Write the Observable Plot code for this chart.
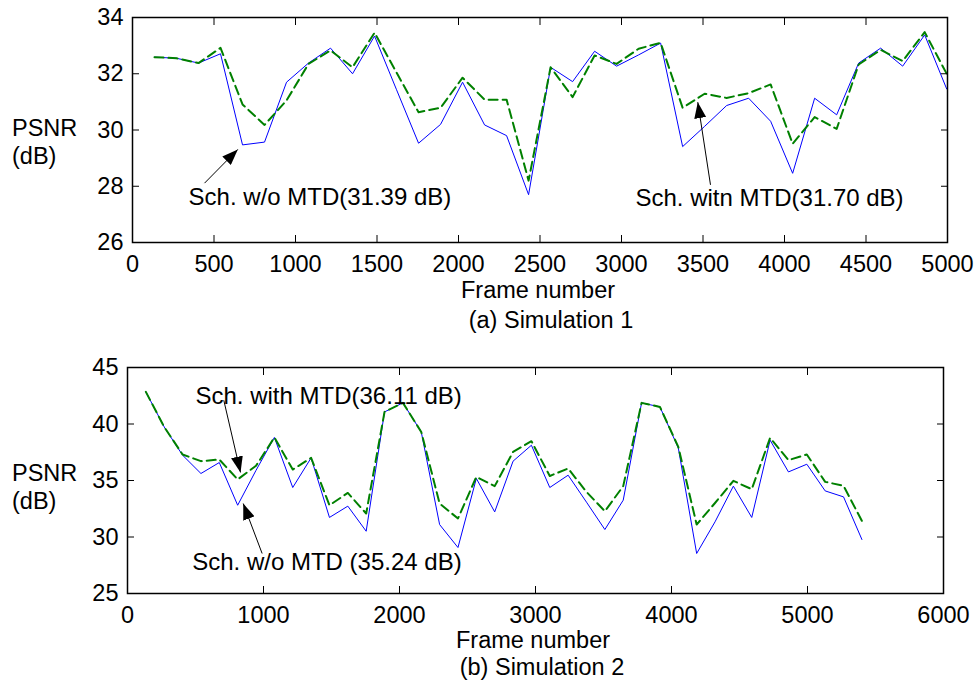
<!DOCTYPE html>
<html><head><meta charset="utf-8">
<script src="https://cdn.jsdelivr.net/npm/d3@7"></script>
<script src="https://cdn.jsdelivr.net/npm/@observablehq/plot@0.6"></script>
<style>
body{margin:0;background:#fff;}
#root{position:relative;width:976px;height:688px;font-family:"Liberation Sans",Arial,sans-serif;color:#000;background:#fff;overflow:hidden;}
.panel{position:absolute;left:0;}
.lab{position:absolute;font-size:23.5px;line-height:23px;white-space:nowrap;transform:translate(-50%,-50%);}
.yl{position:absolute;font-size:23.5px;line-height:28px;white-space:nowrap;}
</style></head><body><div id="root"></div>
<script>
// ---- Simulation 1 ----
const frames1 = [135,270,405,540,675,810,945,1080,1215,1350,1485,1620,1755,1890,2025,2160,2295,2430,2565,2700,2835,2970,3105,3240,3375,3510,3645,3780,3915,4050,4185,4320,4455,4590,4725,4860,4995];
const sim1WithoutMTD = [32.59,32.55,32.38,32.71,29.47,29.57,31.70,32.38,32.91,32.00,33.34,31.43,29.53,30.20,31.70,30.18,29.80,27.70,32.23,31.72,32.80,32.27,32.67,33.09,29.41,30.13,30.87,31.13,30.31,28.46,31.13,30.54,32.38,32.91,32.27,33.38,31.46];
const sim1WithMTD = [32.59,32.55,32.38,32.92,30.91,30.18,31.05,32.35,32.83,32.23,33.46,32.04,30.63,30.79,31.86,31.08,31.08,28.20,32.23,31.17,32.65,32.35,32.89,33.10,30.79,31.29,31.14,31.31,31.62,29.51,30.46,30.04,32.33,32.85,32.45,33.48,32.00];
const xTicks1 = [0,500,1000,1500,2000,2500,3000,3500,4000,4500,5000];
const yTicks1 = [26,28,30,32,34];

// ---- Simulation 2 ----
const frames2 = [135,270,405,540,675,810,945,1080,1215,1350,1485,1620,1755,1890,2025,2160,2295,2430,2565,2700,2835,2970,3105,3240,3375,3510,3645,3780,3915,4050,4185,4320,4455,4590,4725,4860,4995,5130,5265,5400];
const sim2WithoutMTD = [42.84,39.74,37.24,35.62,36.59,32.81,35.90,38.81,34.38,37.00,31.73,32.73,30.51,41.07,41.87,39.30,31.10,29.07,35.18,32.22,36.71,38.12,34.38,35.47,33.08,30.66,33.26,41.87,41.51,37.88,28.54,31.34,34.50,31.73,38.57,35.76,36.44,34.08,33.55,29.78];
const sim2WithMTD = [42.84,39.74,37.30,36.71,36.86,35.09,36.30,38.81,35.97,37.00,32.81,33.90,32.08,41.07,41.87,39.30,32.96,31.64,35.32,34.50,37.53,38.48,35.40,36.06,33.99,32.28,34.50,41.87,41.51,37.97,31.10,33.01,34.97,34.23,38.77,36.80,37.30,34.88,34.53,31.42];
const xTicks2 = [0,1000,2000,3000,4000,5000,6000];
const yTicks2 = [25,30,35,40,45];

// ---- annotations (text anchor and arrow tail -> tip, in data units) ----
const notes1 = [
  {text:"Sch. w/o MTD(31.39 dB)", tx:344, ty:27.6, x1:442, y1:28.11, x2:646, y2:29.31},
  {text:"Sch. witn MTD(31.70 dB)", tx:3086, ty:27.56, x1:3546, y1:28.05, x2:3468, y2:30.99}
];
const notes2 = [
  {text:"Sch. with MTD(36.11 dB)", tx:500, ty:42.46, x1:708, y1:42.1, x2:831, y2:35.71},
  {text:"Sch. w/o MTD (35.24 dB)", tx:476, ty:27.77, x1:990, y1:28.54, x2:851, y2:32.96}
];

const FONT = "'Liberation Sans', Arial, sans-serif";

function filledArrow() {
  const m = d3.create("svg:marker")
    .attr("viewBox", "-16 -6 16 12")
    .attr("markerWidth", 16).attr("markerHeight", 12)
    .attr("markerUnits", "userSpaceOnUse")
    .attr("orient", "auto")
    .attr("refX", 0).attr("refY", 0)
    .attr("fill", "black").attr("stroke", "none");
  m.append("path").attr("d", "M-16,-6L0,0L-16,6Z");
  return m.node();
}

function panel({frames, without, withMTD, xTicks, yTicks, xDomain, yDomain, notes, marginLeft, marginRight, height, marginBottom}) {
  const rows = frames.map((f, i) => ({frame: f, without: without[i], withMTD: withMTD[i]}));
  return Plot.plot({
    width: 976, height,
    marginTop: 17, marginBottom, marginLeft, marginRight,
    style: {fontFamily: FONT, fontSize: "23.5px", color: "black", background: "white", overflow: "visible"},
    x: {domain: xDomain},
    y: {domain: yDomain},
    marks: [
      Plot.line(rows, {x: "frame", y: "without", stroke: "#0000ff", strokeWidth: 1}),
      Plot.line(rows, {x: "frame", y: "withMTD", stroke: "#008000", strokeWidth: 2, strokeDasharray: "9,5"}),
      Plot.axisX(xTicks, {anchor: "bottom", tickSize: -7, tickFormat: () => "", label: null, stroke: "black"}),
      Plot.axisX(xTicks, {anchor: "top", tickSize: -7, tickFormat: () => "", label: null, stroke: "black"}),
      Plot.axisY(yTicks, {anchor: "left", tickSize: -7, tickFormat: () => "", label: null, stroke: "black"}),
      Plot.axisY(yTicks, {anchor: "right", tickSize: -7, tickFormat: () => "", label: null, stroke: "black"}),
      Plot.axisX(xTicks, {anchor: "bottom", tickSize: 0, tickPadding: 13, label: null, fontSize: 23.5, fill: "black", tickFormat: d => String(d)}),
      Plot.axisY(yTicks, {anchor: "left", tickSize: 0, tickPadding: 9, label: null, fontSize: 23.5, fill: "black", tickFormat: d => String(d)}),
      Plot.frame({stroke: "black", strokeWidth: 1.5}),
      Plot.link(notes, {x1: "x1", y1: "y1", x2: "x2", y2: "y2", stroke: "black", strokeWidth: 1, markerEnd: filledArrow}),
      Plot.text(notes, {x: "tx", y: "ty", text: "text", textAnchor: "start", lineAnchor: "middle", fontSize: 24, fill: "black"})
    ]
  });
}

const root = document.getElementById("root");

const p1 = panel({frames: frames1, without: sim1WithoutMTD, withMTD: sim1WithMTD, xTicks: xTicks1, yTicks: yTicks1,
  xDomain: [0, 5000], yDomain: [26, 34], notes: notes1, marginLeft: 132, marginRight: 29, height: 300, marginBottom: 58});
p1.classList.add("panel"); p1.style.top = "0px";
root.appendChild(p1);

const p2 = panel({frames: frames2, without: sim2WithoutMTD, withMTD: sim2WithMTD, xTicks: xTicks2, yTicks: yTicks2,
  xDomain: [0, 6000], yDomain: [25, 45], notes: notes2, marginLeft: 127, marginRight: 33, height: 273, marginBottom: 30});
p2.classList.add("panel"); p2.style.top = "350px";
root.appendChild(p2);

function addLabel(cls, html, left, top) {
  const d = document.createElement("div");
  d.className = cls; d.innerHTML = html;
  d.style.left = left + "px"; d.style.top = top + "px";
  root.appendChild(d);
}
addLabel("yl", "PSNR<br>(dB)", 12, 114);
addLabel("yl", "PSNR<br>(dB)", 12, 459);
addLabel("lab", "Frame number", 538, 289.5);
addLabel("lab", "(a) Simulation 1", 551, 319.5);
addLabel("lab", "Frame number", 533, 640);
addLabel("lab", "(b) Simulation 2", 542, 667);
</script>
</body></html>
